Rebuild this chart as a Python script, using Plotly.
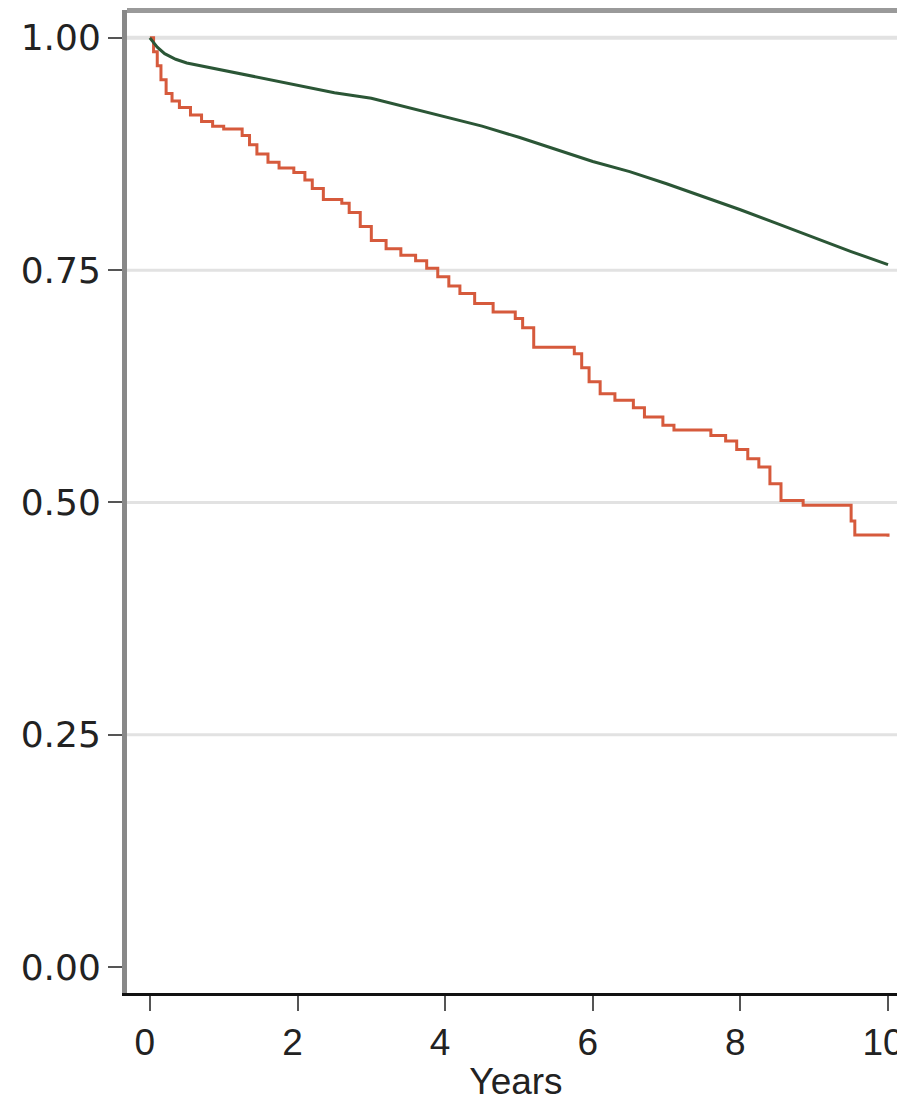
import plotly.graph_objects as go

# Green (smooth) survival curve
green_t = [0, 0.1, 0.2, 0.35, 0.5, 0.75, 1, 1.5, 2, 2.5, 3, 3.5, 4, 4.5, 5,
           5.5, 6, 6.5, 7, 7.5, 8, 8.5, 9, 9.5, 10]
green_s = [1.0, 0.99, 0.983, 0.977, 0.973, 0.969, 0.965, 0.957, 0.949, 0.941,
           0.935, 0.925, 0.915, 0.905, 0.893, 0.88, 0.867, 0.856, 0.843, 0.829,
           0.815, 0.8, 0.785, 0.77, 0.756]

# Red (step) survival curve
red_t = [0, 0.05, 0.1, 0.15, 0.22, 0.3, 0.4, 0.55, 0.7, 0.85, 1.0, 1.25, 1.35,
         1.45, 1.6, 1.75, 1.95, 2.1, 2.2, 2.35, 2.6, 2.7, 2.85, 3.0, 3.2, 3.4,
         3.6, 3.75, 3.9, 4.05, 4.2, 4.4, 4.65, 4.95, 5.05, 5.2, 5.75, 5.85,
         5.95, 6.1, 6.3, 6.55, 6.7, 6.95, 7.1, 7.6, 7.8, 7.95, 8.1, 8.25, 8.4,
         8.55, 8.85, 9.5, 9.55, 10.0]
red_s = [1.0, 0.985, 0.97, 0.955, 0.94, 0.932, 0.925, 0.917, 0.91, 0.905,
         0.902, 0.895, 0.885, 0.875, 0.866, 0.86, 0.855, 0.847, 0.838, 0.826,
         0.822, 0.812, 0.797, 0.782, 0.773, 0.766, 0.76, 0.752, 0.743, 0.733,
         0.725, 0.714, 0.705, 0.698, 0.688, 0.667, 0.66, 0.645, 0.63, 0.617,
         0.61, 0.602, 0.592, 0.583, 0.578, 0.572, 0.566, 0.557, 0.547, 0.538,
         0.52, 0.502, 0.497, 0.48, 0.465, 0.463]

x_ticks = [0, 2, 4, 6, 8, 10]
y_ticks = [0.0, 0.25, 0.5, 0.75, 1.0]
y_tick_text = ["0.00", "0.25", "0.50", "0.75", "1.00"]
x_title = "Years"

fig = go.Figure()

# horizontal grid lines (no line at 0)
for v in y_ticks:
    if v > 0:
        fig.add_shape(type="line", xref="paper", yref="y", x0=0, x1=1, y0=v, y1=v,
                      line=dict(color="#e2e2e2", width=4 if v == 1.0 else 3),
                      layer="below")

fig.add_trace(go.Scatter(x=red_t, y=red_s, mode="lines", line_shape="hv",
                         line=dict(color="#d65a3c", width=3), showlegend=False))
fig.add_trace(go.Scatter(x=green_t, y=green_s, mode="lines",
                         line=dict(color="#2b5636", width=3), showlegend=False))

# top border
fig.add_shape(type="line", xref="paper", yref="paper", x0=0, x1=1, y0=1, y1=1,
              line=dict(color="#9a9a9a", width=6))

# page body has an 8px margin, so the figure is sized/offset to compensate
fig.update_layout(
    width=897, height=1094,
    margin=dict(l=119, r=0, t=2, b=109, autoexpand=False),
    plot_bgcolor="white", paper_bgcolor="white",
    showlegend=False,
)
fig.update_xaxes(
    range=[-0.31, 10.23], tickvals=x_ticks, ticks="outside", ticklen=15,
    tickwidth=2, tickcolor="#555", showgrid=False, zeroline=False,
    showline=True, linecolor="#111", linewidth=3, automargin=False,
    ticklabeloverflow="allow", ticklabelshift=-5,
    tickfont=dict(family="Liberation Sans, Arial", size=37, color="#222"),
    title=dict(text=x_title, font=dict(family="Liberation Sans, Arial", size=37, color="#222"),
               standoff=6),
)
fig.update_yaxes(
    range=[-0.028, 1.030], tickvals=y_ticks, ticktext=y_tick_text,
    ticks="outside", ticklen=14, tickwidth=2, tickcolor="#555",
    showgrid=False, zeroline=False, automargin=False, ticklabelstandoff=0,
    showline=True, linecolor="#888", linewidth=5,
    tickfont=dict(family="DejaVu Sans", size=36, color="#222"),
)

fig.write_html("out.html")
